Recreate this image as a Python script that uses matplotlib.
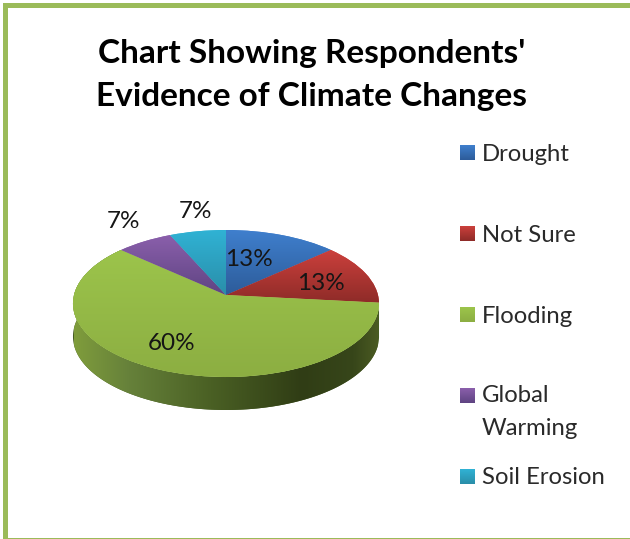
import numpy as np
import matplotlib
matplotlib.use("Agg")
import matplotlib.pyplot as plt
from matplotlib.colors import LinearSegmentedColormap
from matplotlib.patches import Polygon, Rectangle
from matplotlib.transforms import Transform

categories = ["Drought", "Not Sure", "Flooding", "Global\nWarming", "Soil Erosion"]
percent = [13.33, 13.33, 60, 6.67, 6.67]
percent_labels = ["13%", "13%", "60%", "7%", "7%"]
title = "Chart Showing Respondents'\nEvidence of Climate Changes"
top_colors = ["#3f7fcd", "#cb403c", "#9cc44b", "#8a5fab", "#30b2d4"]
low_colors = ["#2d5c9a", "#8e2b28", "#8cae42", "#5f4482", "#2a8ea9"]

W, H = 630, 539
CX, CY, R, DEPTH = 226.0, 295.0, 152.0, 33.0
PD, PA = 0.1156, -38.4


class Perspective(Transform):
    input_dims = output_dims = 2
    is_affine = False

    def transform_non_affine(self, xy):
        xy = np.asarray(xy, dtype=float)
        den = 1 + PD * xy[:, 1]
        return np.column_stack([CX + R * xy[:, 0] / den,
                                (PA * xy[:, 1] + CY) / den])


persp = Perspective()

fig = plt.figure(figsize=(W / 100, H / 100), dpi=100, facecolor="white")
ax = fig.add_axes([0, 0, 1, 1])
wedges, _ = ax.pie(percent, colors=top_colors, startangle=90, counterclock=False,
                   center=(0, 0), radius=1)


def limits():
    ax.set_aspect("auto")
    ax.set_xlim(0, W)
    ax.set_ylim(H, 0)
    ax.axis("off")


limits()
FONT = "Lato"
INK = "#151515"
LEGEND_INK = "#2a2a2a"

# side wall of the largest slice
big = wedges[2]
th = np.radians(np.linspace(big.theta1, big.theta2, 200))
rim = persp.transform(np.column_stack([np.cos(th), np.sin(th)]))
wall = Polygon(np.vstack([rim, (rim + [0, DEPTH])[::-1]]), closed=True,
               facecolor="#465c22", edgecolor="none", zorder=1,
               transform=ax.transData)
ax.add_patch(wall)
wall_cmap = LinearSegmentedColormap.from_list(
    "wall", [(0, "#7f9c3c"), (0.18, "#66813a"), (0.45, "#4a6024"),
             (0.75, "#303d15"), (0.92, "#37461a"), (1, "#4a5a22")])
img = ax.imshow(np.linspace(0, 1, 256)[None, :], cmap=wall_cmap, aspect="auto",
                extent=(CX - R, CX + R, H, 0), zorder=1.1)
img.set_clip_path(wall)

# top faces with a vertical shade per slice
for w, c0, c1 in zip(wedges, top_colors, low_colors):
    w.set_transform(persp + ax.transData)
    w.set_zorder(2)
    w.set_edgecolor("none")
    px = persp.transform(w.get_path().vertices)
    cmap = LinearSegmentedColormap.from_list("s", [c0, c1])
    im = ax.imshow(np.linspace(0, 1, 128)[:, None], cmap=cmap, aspect="auto",
                   extent=(px[:, 0].min(), px[:, 0].max(), px[:, 1].max(), px[:, 1].min()),
                   origin="upper", zorder=2.1)
    im.set_clip_path(w)
limits()

# percentage labels
label_pos = [(249, 260), (321, 284), (172, 344), (123, 222), (196, 211)]
for txt, (x, y) in zip(percent_labels, label_pos):
    ax.text(x, y, txt, ha="center", va="center", fontsize=17.5, family=FONT,
            color=INK, zorder=5)

ax.text(312, 75, title, ha="center", va="center", fontsize=24, family=FONT,
        fontweight="bold", color="#000000", linespacing=1.6, zorder=5)

# legend
for i, (name, c0, c1) in enumerate(zip(categories, top_colors, low_colors)):
    yc = 153 + 80.8 * i
    cmap = LinearSegmentedColormap.from_list("h", [c0, c1])
    ax.imshow(np.linspace(0, 1, 32)[:, None], cmap=cmap, aspect="auto",
              extent=(460, 475, yc + 7.5, yc - 7.5), zorder=4)
    if "\n" in name:
        ax.text(482, yc - 10, name, ha="left", va="top", fontsize=17.2, family=FONT,
                color=LEGEND_INK, linespacing=1.7, zorder=5)
    else:
        ax.text(482, yc + 8, name, ha="left", va="baseline", fontsize=17.2, family=FONT,
                color=LEGEND_INK, zorder=5)

# frame
frame = "#9bbb59"
ax.add_patch(Rectangle((3, 3), 627, 5, facecolor=frame, edgecolor="none", zorder=6))
ax.add_patch(Rectangle((3, 3), 5, 536, facecolor=frame, edgecolor="none", zorder=6))
ax.add_patch(Rectangle((3, 537.5), 627, 1.5, facecolor=frame, edgecolor="none", zorder=6))
limits()
fig.savefig("out.png", dpi=100, facecolor="white")
